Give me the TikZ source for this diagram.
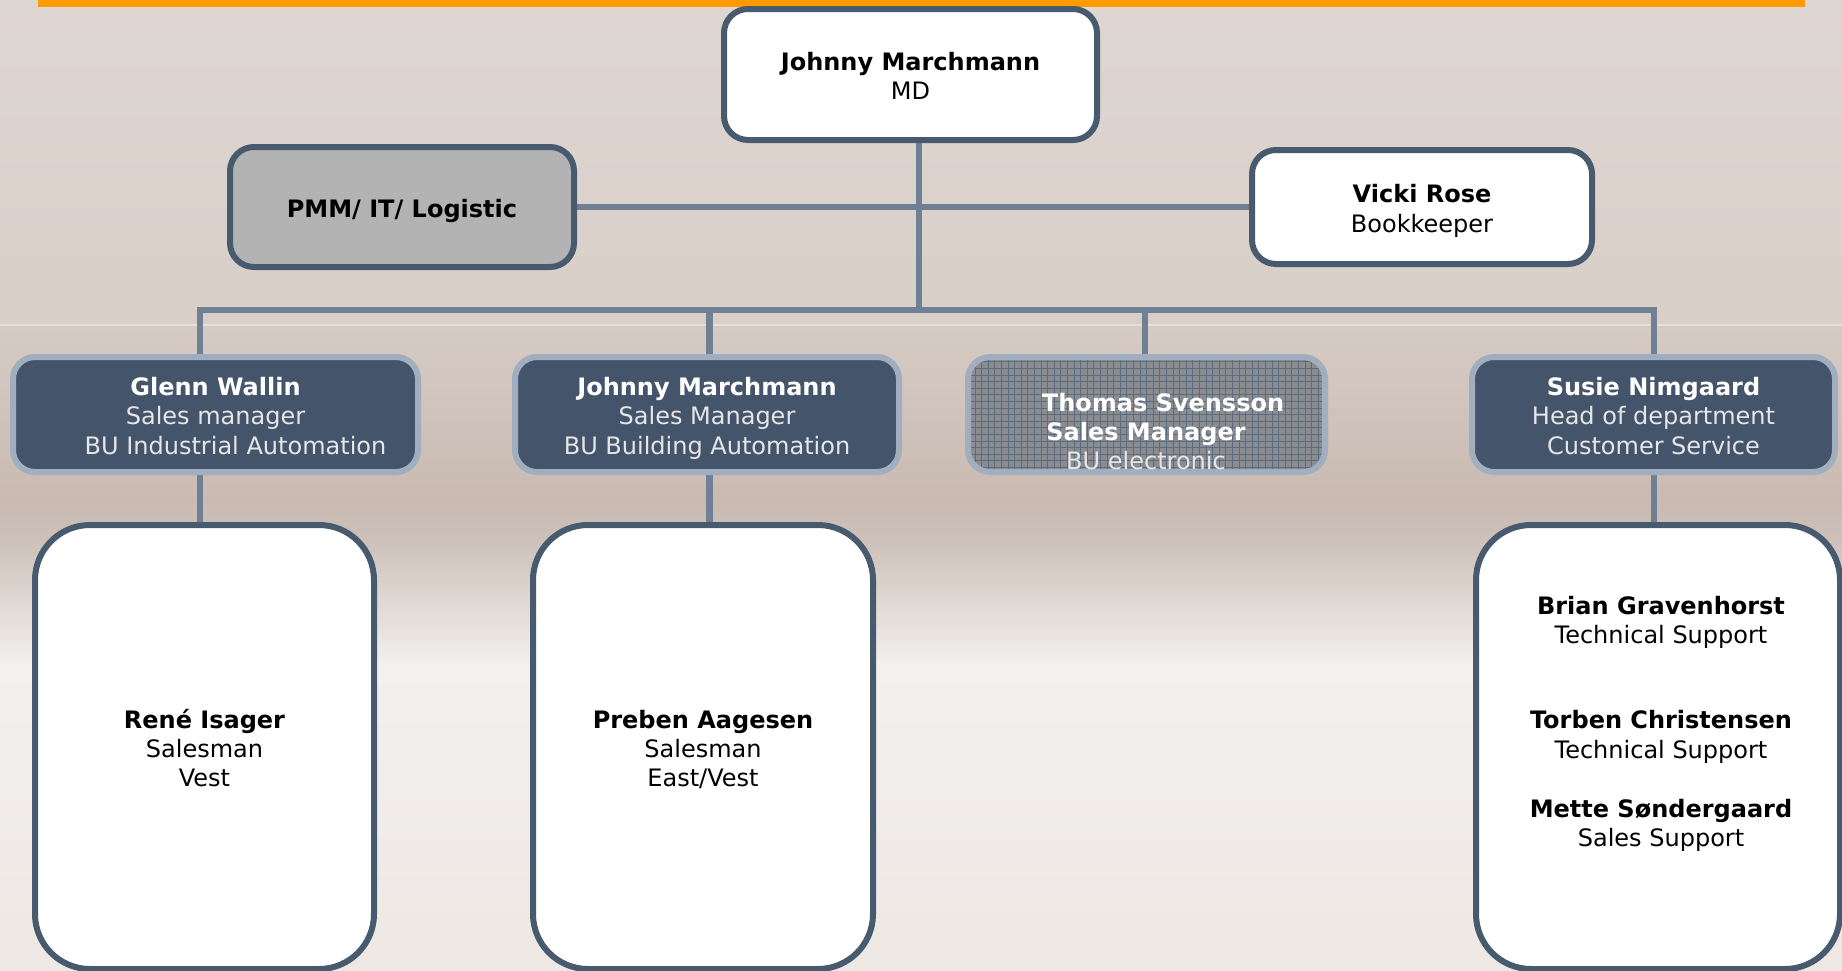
\documentclass[tikz,border=0pt]{standalone}
\usepackage{fontspec}
\setmainfont{DejaVu Sans}
\pgfdeclarelayer{backdrop}
\pgfdeclarelayer{wires}
\pgfsetlayers{backdrop,wires,main}
\definecolor{orangebar}{HTML}{FF9A00}
\definecolor{darkborder}{HTML}{475A6E}
\definecolor{lightborder}{HTML}{A0AEBF}
\definecolor{darkfill}{HTML}{44546A}
\definecolor{pmmgray}{HTML}{B3B3B3}
\definecolor{conncolor}{HTML}{708094}
\definecolor{subtext}{HTML}{E6E6E6}
\definecolor{thomasfill}{HTML}{8A8C90}
\definecolor{thomasgrid}{HTML}{5B6B80}
\definecolor{bgA}{HTML}{DED6D1}
\definecolor{bgB}{HTML}{D9CFC9}
\definecolor{bgC}{HTML}{D6CBC4}
\definecolor{bgD}{HTML}{C9BBB2}
\definecolor{bgE}{HTML}{CBBFB7}
\definecolor{bgF}{HTML}{F3F0EE}
\definecolor{bgG}{HTML}{EEE8E4}
\newcommand\fline[1]{\rule{0pt}{29.6pt}\strut#1}
\newcommand\sline[1]{\strut#1}
\begin{document}
\begin{tikzpicture}[x=1pt,y=-1pt,
  txt/.style={font=\fontsize{24}{29.4}\selectfont, inner sep=0pt, align=center},
  topbox/.style={txt, rectangle, draw=darkborder, fill=white, line width=6pt, rounded corners=24pt, text=black},
  midbox/.style={txt, rectangle, draw=lightborder, fill=darkfill, line width=6pt, rounded corners=22pt, text=white},
  bigbox/.style={txt, rectangle, draw=darkborder, fill=white, line width=6pt, rounded corners=55pt, text=black},
  conn/.style={draw=conncolor, line width=6.5pt, line join=miter}]
\useasboundingbox (0,0) rectangle (1842,970);
\begin{pgfonlayer}{backdrop}
  \fill[top color=bgA, bottom color=bgB] (0,0) rectangle (1842,325);
  \fill[top color=bgC, bottom color=bgD] (0,325) rectangle (1842,500);
  \fill[top color=bgD, bottom color=bgE] (0,500) rectangle (1842,535);
  \fill[top color=bgE, bottom color=bgF] (0,535) rectangle (1842,665);
  \fill[top color=bgF, bottom color=bgG] (0,665) rectangle (1842,970);
  \draw[white, opacity=0.35, line width=1.2pt] (0,325) -- (1842,325);
  \fill[orangebar] (38,0) rectangle (1805,7);
\end{pgfonlayer}

% level 0 / staff
\node[topbox, minimum width=373pt, minimum height=131pt] (md) at (910.5,74.5)
  {\fline{\textbf{Johnny Marchmann}}\\\sline{MD}};
\node[topbox, fill=pmmgray, minimum width=344pt, minimum height=120pt] (pmm) at (402,207)
  {\fline{\textbf{PMM/ IT/ Logistic}}};
\node[topbox, minimum width=340pt, minimum height=114pt] (vicki) at (1422,207)
  {\fline{\textbf{Vicki Rose}}\\\sline{Bookkeeper}};

% level 1
\node[midbox, minimum width=405pt, minimum height=115pt] (glenn) at (215.5,414.5)
  {\fline{\textbf{Glenn Wallin}}\\\sline{\color{subtext}Sales manager}\\\sline{\color{subtext}\hspace*{40pt}BU Industrial Automation}};
\node[midbox, minimum width=384pt, minimum height=115pt] (johnny) at (707,414.5)
  {\fline{\textbf{Johnny Marchmann}}\\\sline{\color{subtext}Sales Manager}\\\sline{\color{subtext}BU Building Automation}};
\node[midbox, fill=thomasfill, minimum width=357pt, minimum height=115pt,
  path picture={\draw[thomasgrid, line width=0.8pt] (path picture bounding box.south west) grid[step=6.6pt] (path picture bounding box.north east);}] (thomas) at (1146.5,414.5) {};
\node[txt, text=white] (thomastext) at (1146,430)
  {\fline{\hspace*{34pt}\textbf{Thomas Svensson}}\\\sline{\textbf{Sales Manager}}\\\sline{\color{subtext}BU electronic}};
\node[midbox, minimum width=363pt, minimum height=115pt] (susie) at (1653.5,414.5)
  {\fline{\textbf{Susie Nimgaard}}\\\sline{\color{subtext}Head of department}\\\sline{\color{subtext}Customer Service}};

% level 2
\node[bigbox, minimum width=339pt, minimum height=444pt] (rene) at (204.5,747)
  {\fline{\textbf{René Isager}}\\\sline{Salesman}\\\sline{Vest}};
\node[bigbox, minimum width=340pt, minimum height=444pt] (preben) at (703,747)
  {\fline{\textbf{Preben Aagesen}}\\\sline{Salesman}\\\sline{East/Vest}};
\node[bigbox, minimum width=364pt, minimum height=444pt] (brian) at (1658,747) {};
\node[txt] (briantext) at (1661,720)
  {\fline{\textbf{Brian Gravenhorst}}\\\sline{Technical Support}\\[56pt]\sline{\textbf{Torben Christensen}}\\\sline{Technical Support}\\[29.6pt]\sline{\textbf{Mette Søndergaard}}\\\sline{Sales Support}};

% connectors
\coordinate (hub) at (919,310);
\coordinate (busL) at (200,310);
\coordinate (busR) at (1654,310);
\coordinate (busJ) at (709.5,310);
\coordinate (busT) at (1145,310);
\begin{pgfonlayer}{wires}
  \draw[conn] (md.south -| hub) -- (hub);
  \draw[conn] (pmm.east) -- (vicki.west);
  \draw[conn] (busL |- glenn.north) -- (busL) -- (busR) -- (busR |- susie.north);
  \draw[conn] (busJ) -- (busJ |- johnny.north);
  \draw[conn] (busT) -- (busT |- thomas.north);
  \draw[conn] (glenn.south -| busL) -- (rene.north -| busL);
  \draw[conn] (johnny.south -| busJ) -- (preben.north -| busJ);
  \draw[conn] (susie.south -| busR) -- (brian.north -| busR);
\end{pgfonlayer}
\end{tikzpicture}
\end{document}
